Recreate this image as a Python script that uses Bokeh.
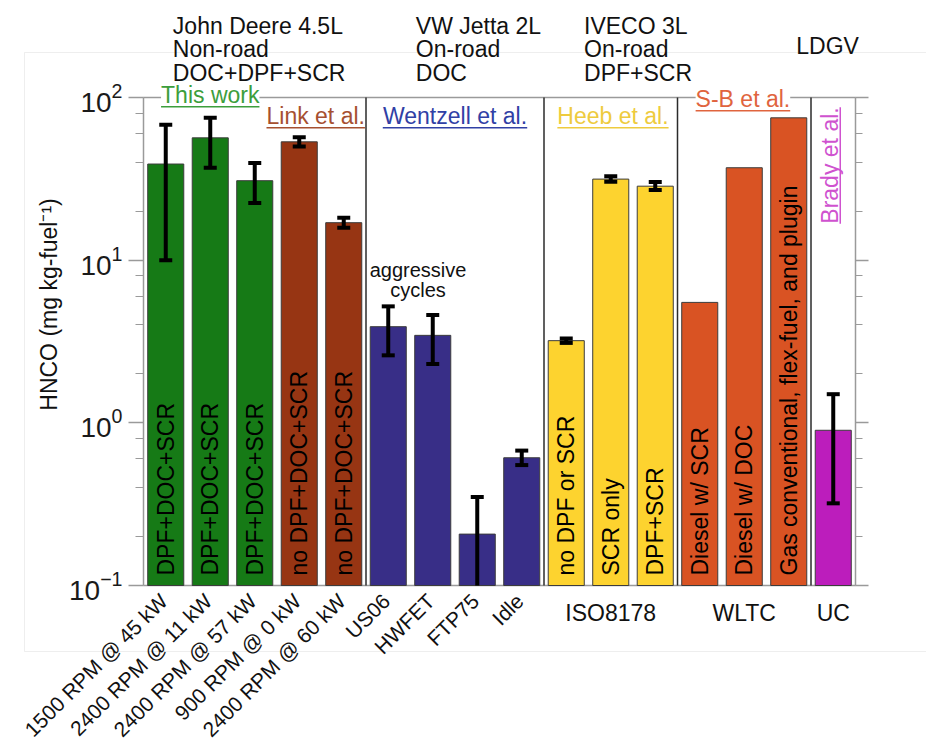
import math
import numpy as np
from bokeh.plotting import figure
from bokeh.models import Label, LogAxis, BoxAnnotation, Range1d
from bokeh.embed import file_html
from bokeh.resources import INLINE
from bokeh.core.properties import value

nan = float("nan")

# ---------------- data ----------------
conditions = ["1500 RPM @ 45 kW", "2400 RPM @ 11 kW", "2400 RPM @ 57 kW",
              "900 RPM @ 0 kW", "2400 RPM @ 60 kW",
              "US06", "HWFET", "FTP75", "Idle"]
cycle_labels = ["ISO8178", "WLTC", "UC"]
cycle_label_bars = [10, 13, 15]
bar_texts = ["DPF+DOC+SCR", "DPF+DOC+SCR", "DPF+DOC+SCR",
             "no DPF+DOC+SCR", "no DPF+DOC+SCR",
             "", "", "", "",
             "no DPF or SCR", "SCR only", "DPF+SCR",
             "Diesel w/ SCR", "Diesel w/ DOC", "Gas conventional, flex-fuel, and plugin",
             ""]
hnco = [39.0, 56.5, 30.8, 53.4, 17.0,
        3.9, 3.45, 0.207, 0.61,
        3.2, 31.5, 28.5,
        5.5, 37.0, 75.0,
        0.90]
err_hi = [68.0, 75.0, 39.6, 57.0, 18.2,
          5.2, 4.6, 0.35, 0.675,
          3.3, 32.8, 30.2,
          nan, nan, nan,
          1.5]
err_lo = [10.0, 37.0, 22.5, 50.0, 15.8,
          2.6, 2.3, 0.05, 0.55,
          3.1, 30.3, 27.0,
          nan, nan, nan,
          0.32]
studies = ["This work", "Link et al.", "Wentzell et al.", "Heeb et al.", "S-B et al.", "Brady et al."]
study_sizes = [3, 2, 4, 3, 3, 1]
cycle_group_sizes = [5, 4, 3, 3, 1]
platforms = ["John Deere 4.5L\nNon-road\nDOC+DPF+SCR", "VW Jetta 2L\nOn-road\nDOC",
             "IVECO 3L\nOn-road\nDPF+SCR", "LDGV"]
aggressive_note = "aggressive\ncycles"
y_label = "HNCO (mg kg-fuel\u207b\u00b9)"

# ---------------- styles / layout ----------------
study_fill = ["#167a16", "#973513", "#382e87", "#fdd32f", "#d95323", "#bc1dbc"]
study_text = ["#3c9e3c", "#a65030", "#3040a5", "#eecb3e", "#e0643e", "#cf52cf"]
AX = "#9a9a9a"
FONTN = "Liberation Sans"
FONT = value(FONTN)
FS = 23  # main text size (px)
FS_ROT = 21  # rotated bottom labels

W, H = 926, 754
PLOT_L, PLOT_R, PLOT_T, PLOT_B = 143, 855, 97, 585   # bar area inside the canvas
N = len(hnco)
PX = (PLOT_R - PLOT_L) / N
Y_MIN, Y_MAX = 0.1, 100.0
DEC = (PLOT_B - PLOT_T) / (math.log10(Y_MAX) - math.log10(Y_MIN))
X0, X1 = -0.5, N - 0.5
idx = list(range(N))


def xv(cx):   # canvas px -> data x
    return X0 + (cx - PLOT_L) / PX


def yv(cy):   # canvas px -> data y (log)
    return 10 ** (math.log10(Y_MAX) - (cy - PLOT_T) / DEC)


def sy(cy):   # canvas px -> screen units (from bottom)
    return H - cy


ASC = 0.905  # ascent of the font, in em

AW = {'T': 611, 'h': 556, 'i': 222, 's': 500, ' ': 278, 'w': 722, 'o': 556, 'r': 333, 'k': 500,
      'L': 556, 'n': 556, 'e': 556, 't': 278, 'a': 556, 'l': 222, '.': 278, 'W': 944, 'z': 500,
      'H': 722, 'b': 556, 'S': 667, '-': 333, 'B': 667, 'd': 556, 'y': 500}


def tw(s, size):
    return sum(AW.get(c, 556) for c in s) * size / 1000.0


bar_colors = []
study_first = []
k = 0
for c, n in zip(study_fill, study_sizes):
    study_first.append(k)
    bar_colors += [c] * n
    k += n

p = figure(width=W, height=H, x_range=Range1d(xv(0), xv(W)), y_range=Range1d(yv(H), yv(0)),
           y_axis_type="log", x_axis_location=None, y_axis_location=None,
           output_backend="svg", toolbar_location=None,
           min_border_left=0, min_border_right=0, min_border_top=0, min_border_bottom=0)
p.grid.visible = False
p.outline_line_color = None

axis_style = dict(axis_line_color=AX, axis_line_width=1.5, major_tick_line_color=AX,
                  minor_tick_line_color=AX, major_tick_line_width=1.5, major_tick_in=0, minor_tick_in=0,
                  bounds=(Y_MIN, Y_MAX))
ya = LogAxis(fixed_location=X0, major_tick_out=15, minor_tick_out=8,
             major_label_text_font=FONTN, major_label_text_font_size="28px",
             major_label_text_color="#1a1a1a", major_label_standoff=6, **axis_style)
p.add_layout(ya, "left")
ra = LogAxis(fixed_location=X1, major_tick_out=13, minor_tick_out=7,
             major_label_text_alpha=0, major_label_text_font_size="10px", **axis_style)
p.add_layout(ra, "right")

# outer light frame
p.add_layout(BoxAnnotation(left=24, right=W + 10, top=sy(52), bottom=sy(651),
                           left_units="screen", right_units="screen", top_units="screen", bottom_units="screen",
                           fill_alpha=0, line_color="#c8c8c8", line_width=1))

# top and bottom frame lines
p.segment(x0=[X0, X0], y0=[Y_MIN, Y_MAX], x1=[X1, X1], y1=[Y_MIN, Y_MAX], line_color=AX, line_width=1.5)

# bars
p.vbar(x=idx, bottom=Y_MIN, top=hnco, width=0.81, fill_color=bar_colors,
       line_color="#3c3c3c", line_width=1)

# separators between cycle groups
bounds = list(np.cumsum(cycle_group_sizes)[:-1] - 0.5)
p.segment(x0=bounds, y0=Y_MIN, x1=bounds, y1=Y_MAX, line_color="#2b2b2b", line_width=1.5)

# error bars (lower ends below the axis are cut at the axis)
ei = [i for i in idx if not math.isnan(err_hi[i])]
lo_cut = [max(err_lo[i], Y_MIN) for i in ei]
p.segment(x0=ei, y0=lo_cut, x1=ei, y1=[err_hi[i] for i in ei], line_color="black", line_width=4)
p.scatter(x=ei, y=[err_hi[i] for i in ei], marker="dash", size=13, line_color="black", line_width=4)
li = [i for i in ei if err_lo[i] >= Y_MIN]
p.scatter(x=li, y=[err_lo[i] for i in li], marker="dash", size=13, line_color="black", line_width=4)

# in-bar labels
ti = [i for i in idx if bar_texts[i]]
p.text(x=ti, y=[Y_MIN] * len(ti), text=[bar_texts[i] for i in ti], angle=math.pi / 2,
       text_align="left", text_baseline="middle", y_offset=-10,
       text_font=FONT, text_font_size=f"{FS}px", text_color="black")

# study labels (underlined)
study_dx = [0.0, -0.13, 0.0, 0.05, -0.03, 0.0]
study_base = [102, 123, 123, 123, 106, None]
for s, (name, n, f0, col, dx, b) in enumerate(zip(studies, study_sizes, study_first, study_text,
                                                 study_dx, study_base)):
    cx = f0 + (n - 1) / 2 + dx
    w = tw(name, FS)
    if b is None:  # rotated label (Brady et al.)
        base_x, mid_y = 837, 165
        p.add_layout(Label(x=base_x - ASC * FS, y=sy(mid_y), x_units="screen", y_units="screen",
                           text=name, angle=math.pi / 2, text_align="center", text_baseline="top",
                           text_font=FONTN, text_font_size=f"{FS}px", text_color=col))
        p.add_layout(BoxAnnotation(left=xv(base_x + 2), right=xv(base_x + 3.5),
                                   bottom=yv(mid_y + w / 2), top=yv(mid_y - w / 2),
                                   fill_color=col, fill_alpha=1, line_alpha=0))
    else:
        extra = dict(background_fill_color="white") if s in (0, 4) else {}
        p.add_layout(Label(x=cx, y=sy(b - ASC * FS), y_units="screen", text=name, text_align="center",
                           text_baseline="top", text_font=FONTN, text_font_size=f"{FS}px",
                           text_color=col, **extra))
        p.add_layout(BoxAnnotation(left=cx - w / 2 / PX, right=cx + w / 2 / PX,
                                   bottom=yv(b + 5), top=yv(b + 3.5),
                                   fill_color=col, fill_alpha=1, line_alpha=0))

# platform headers
header_x = [0.16, 5.62, 9.4, 14.17]
header_top = [12, 12, 12, 32]
for txt, hx, ht in zip(platforms, header_x, header_top):
    p.add_layout(Label(x=hx, y=sy(ht), y_units="screen", text=txt, text_align="left", text_baseline="top",
                       text_font=FONTN, text_font_size=f"{FS}px", text_color="#111111", text_line_height=0.91))

p.add_layout(Label(x=5.67, y=sy(258), y_units="screen", text=aggressive_note, text_align="center",
                   text_baseline="top", text_font=FONTN, text_font_size="20px", text_color="#111111",
                   text_line_height=0.92))

# y axis title
p.add_layout(Label(x=48, y=sy(304), x_units="screen", y_units="screen", text=y_label, angle=math.pi / 2,
                   text_align="center", text_baseline="middle", text_font=FONTN, text_font_size=f"{FS}px",
                   text_color="#111111"))

# bottom labels
for i, c in enumerate(conditions):
    p.add_layout(Label(x=i, y=sy(597), y_units="screen", x_offset=-2, text=c, angle=math.pi / 4,
                       text_align="right", text_baseline="middle", text_font=FONTN,
                       text_font_size=f"{FS_ROT}px", text_color="#111111"))
for c, b in zip(cycle_labels, cycle_label_bars):
    p.add_layout(Label(x=b, y=sy(599), y_units="screen", text=c, text_align="center",
                       text_baseline="top", text_font=FONTN, text_font_size=f"{FS}px",
                       text_color="#111111"))

open("out.html", "w").write(file_html(p, INLINE))
